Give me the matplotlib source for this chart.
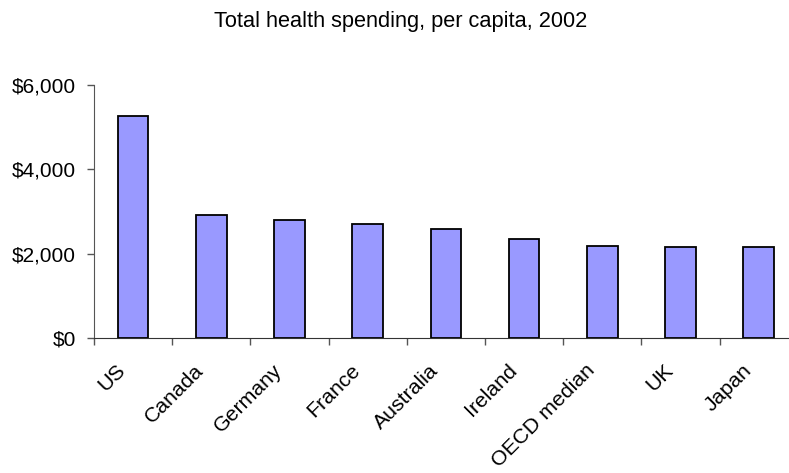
import numpy as np
import matplotlib.pyplot as plt
import matplotlib.transforms as mtransforms
from matplotlib.ticker import FuncFormatter, FixedLocator

plt.rcParams['font.family'] = ['Liberation Sans', 'DejaVu Sans']

countries = ['US', 'Canada', 'Germany', 'France', 'Australia', 'Ireland',
             'OECD median', 'UK', 'Japan']
spending = [5267, 2910, 2791, 2703, 2584, 2346, 2187, 2149, 2145]

fig = plt.figure(figsize=(7.89, 4.73), dpi=100)
ax = fig.add_axes([0.1191, 0.286, 1.0111 - 0.1191, 0.5336])

x = np.arange(len(countries))
ax.bar(x, spending, width=0.39, color='#9999ff', edgecolor='black', linewidth=1.3)

ax.set_xlim(-0.5, len(countries) - 0.5)
ax.set_ylim(0, 6000)
ax.set_yticks([0, 2000, 4000, 6000])
ax.yaxis.set_major_formatter(FuncFormatter(lambda v, p: '${:,.0f}'.format(v)))

# labels at bar centres, tick marks on category boundaries
ax.set_xticks(x)
ax.set_xticklabels(countries, rotation=45, ha='right', va='top', rotation_mode='anchor')
ax.xaxis.set_minor_locator(FixedLocator(np.arange(-0.5, len(countries), 1.0)))
ax.tick_params(axis='x', which='major', length=0, pad=16.5, labelsize=15.3)
ax.tick_params(axis='x', which='minor', length=5, width=1, color='#555555', direction='out')
ax.tick_params(axis='y', length=5, width=1, color='#555555', labelsize=15, pad=8)

shift = mtransforms.ScaledTranslation(-17 / 100, 0, fig.dpi_scale_trans)
for lbl in ax.get_xticklabels():
    lbl.set_transform(lbl.get_transform() + shift)

for side in ['top', 'right']:
    ax.spines[side].set_visible(False)
ax.spines['left'].set_color('#555555')
ax.spines['bottom'].set_color('#333333')

fig.text(0.508, 0.9436, 'Total health spending, per capita, 2002', ha='center', va='baseline',
         fontsize=15.7)

fig.savefig('out.png', dpi=100)
